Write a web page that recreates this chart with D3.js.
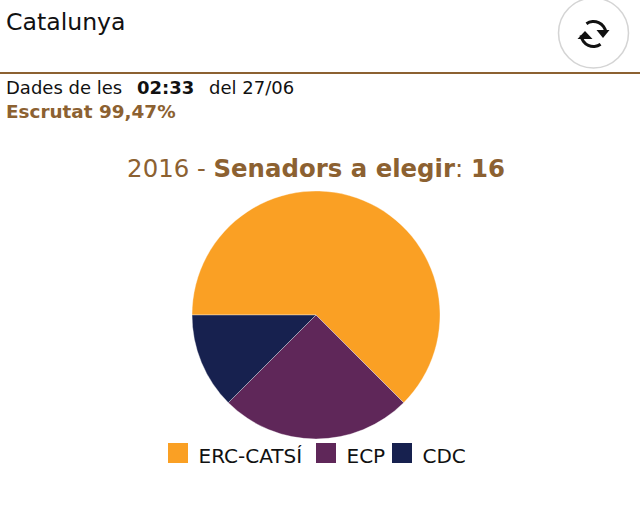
<!DOCTYPE html>
<html>
<head>
<meta charset="utf-8">
<script src="https://cdn.jsdelivr.net/npm/d3@7"></script>
<style>
  html, body { margin: 0; padding: 0; background: #fff; }
  svg { display: block; }
  text { font-family: "DejaVu Sans", Verdana, sans-serif; }
</style>
</head>
<body>
<svg id="chart"></svg>
<script>
// Chart data
const parties = ['ERC-CATSÍ', 'ECP', 'CDC'];
const seats = [10, 4, 2];
const partyColors = ['#faa024', '#5f2759', '#17214f'];

const width = 640;
const height = 510;
const brown = '#8c6131';

const svg = d3.select('#chart')
  .attr('width', width)
  .attr('height', height)
  .attr('viewBox', `0 0 ${width} ${height}`);

// Header
svg.append('text').attr('x', 6).attr('y', 30)
  .style('font-size', '23.6px').attr('fill', '#111').text('Catalunya');

svg.append('line')
  .attr('x1', 0).attr('x2', width).attr('y1', 73).attr('y2', 73)
  .attr('stroke', brown).attr('stroke-width', 2);

// Refresh button
const button = svg.append('g').attr('transform', 'translate(593.5,33)');
button.append('circle').attr('r', 35)
  .attr('fill', '#fff').attr('stroke', '#d4d4d4').attr('stroke-width', 1.5);

const iconArc = d3.arc().innerRadius(11).outerRadius(14);
const icon = button.append('g').attr('transform', 'translate(0,1)');
icon.append('path')
  .attr('d', iconArc({ startAngle: -0.6, endAngle: 1.45 }))
  .attr('fill', '#111');
icon.append('path')
  .attr('d', iconArc({ startAngle: 2.54, endAngle: 4.6 }))
  .attr('fill', '#111');
icon.append('path').attr('d', 'M3,-4 L16,-4 L9.5,4 Z').attr('fill', '#111');
icon.append('path').attr('d', 'M-16,5 L-1,5 L-8.5,-3 Z').attr('fill', '#111');

// Update info
const info = svg.append('text').attr('x', 6).attr('y', 94)
  .style('font-size', '18px').attr('fill', '#111');
info.append('tspan').text('Dades de les');
info.append('tspan').attr('x', 137).style('font-weight', 'bold').text('02:33');
info.append('tspan').attr('x', 209).text('del 27/06');

svg.append('text').attr('x', 6).attr('y', 118)
  .style('font-size', '18.4px').style('font-weight', 'bold')
  .attr('fill', brown).text('Escrutat 99,47%');

// Title
const title = svg.append('text').attr('x', 316).attr('y', 177)
  .attr('text-anchor', 'middle').style('font-size', '24.4px').attr('fill', brown);
title.append('tspan').text('2016 - ');
title.append('tspan').style('font-weight', 'bold').text('Senadors a elegir');
title.append('tspan').text(': ');
title.append('tspan').style('font-weight', 'bold').text('16');

// Pie
const pie = d3.pie().sort(null)
  .startAngle(-Math.PI / 2)
  .endAngle(3 * Math.PI / 2);
const arc = d3.arc().innerRadius(0).outerRadius(124);
const color = d3.scaleOrdinal().domain(parties).range(partyColors);

svg.append('g')
  .attr('transform', 'translate(316,315)')
  .selectAll('path')
  .data(pie(seats))
  .enter()
  .append('path')
  .attr('d', arc)
  .attr('fill', (d, i) => color(parties[i]))
  .attr('stroke', '#fff')
  .attr('stroke-opacity', 0.35)
  .attr('stroke-width', 1);

// Legend
const legendX = d3.scaleOrdinal().domain(parties).range([168, 316, 392]);
const legend = svg.append('g')
  .selectAll('g')
  .data(parties)
  .enter()
  .append('g')
  .attr('transform', d => `translate(${legendX(d)},443)`);

legend.append('rect')
  .attr('width', 20).attr('height', 20)
  .attr('fill', d => color(d));

legend.append('text')
  .attr('x', 30.5).attr('y', 19.5)
  .style('font-size', '20px').attr('fill', '#111')
  .text(d => d);
</script>
</body>
</html>
